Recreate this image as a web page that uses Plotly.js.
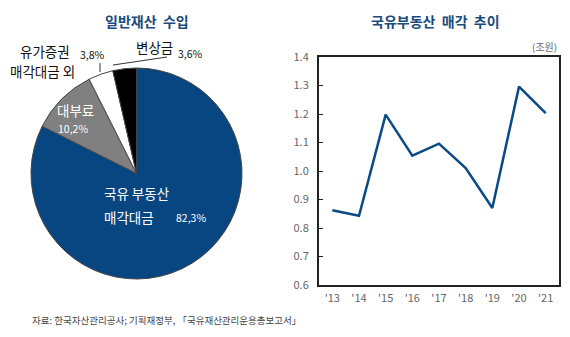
<!DOCTYPE html>
<html><head><meta charset="utf-8">
<script src="https://cdn.plot.ly/plotly-3.0.1.min.js"></script>
<style>html,body{margin:0;padding:0;background:#fff}#c{width:570px;height:337px}</style>
</head><body><div id="c"></div>
<script>
const pieLabels = ['국유 부동산 매각대금', '대부료', '유가증권 매각대금 외', '변상금'];
const pieValues = [82.3, 10.2, 3.8, 3.6];
const pieColors = ['#084682', '#808080', '#ffffff', '#000000'];

const years = ["'13", "'14", "'15", "'16", "'17", "'18", "'19", "'20", "'21"];
const sales = [0.862, 0.843, 1.198, 1.054, 1.096, 1.010, 0.870, 1.296, 1.203];
const yTicks = [0.6, 0.7, 0.8, 0.9, 1.0, 1.1, 1.2, 1.3, 1.4];

const W = 570, H = 337;
const px = x => x / W, py = y => 1 - y / H;
const KR = '"Noto Sans CJK KR", "Noto Sans", sans-serif';
const navy = '#1a4a7e';

const traces = [
  {
    type: 'pie', labels: pieLabels, values: pieValues, sort: false,
    direction: 'clockwise', rotation: 0, textinfo: 'none', hoverinfo: 'none',
    marker: {colors: pieColors, line: {color: '#444', width: 1}},
    domain: {x: [px(31), px(242)], y: [py(279), py(68)]}, showlegend: false
  },
  {
    type: 'scatter', mode: 'lines', x: years, y: sales, xaxis: 'x', yaxis: 'y',
    line: {color: '#0b4a86', width: 2.5}, showlegend: false, hoverinfo: 'none'
  }
];

const ann = [];
function t(text, x, y, size, color, opts) {
  ann.push(Object.assign({text: text, x: px(x), y: py(y), xref: 'paper', yref: 'paper',
    showarrow: false, font: {family: KR, size: size, color: color}, xanchor: 'left', yanchor: 'middle'}, opts || {}));
}
t('<b>일반재산  수입</b>', 147, 21, 14, navy, {xanchor: 'center'});
t('<b>국유부동산  매각  추이</b>', 435, 21, 14, navy, {xanchor: 'center'});
t('(조원)', 559, 46, 10, '#666', {xanchor: 'right'});
t('국유 부동산', 102, 193, 13.5, '#fff');
t('매각대금', 102, 217, 13.5, '#fff');
t(pieValues[0].toFixed(1).replace('.', ',') + '%', 174, 217, 10.5, '#fff');
t('대부료', 55, 110, 13.5, '#fff');
t(pieValues[1].toFixed(1).replace('.', ',') + '%', 56, 128, 10.5, '#fff');
t('유가증권', 18, 51, 13.5, '#111');
t('매각대금 외', 8, 71, 13.5, '#111');
t(pieValues[2].toFixed(1).replace('.', ',') + '%', 78, 55, 10.5, '#111');
t('변상금', 134, 47, 13.5, '#111');
t(pieValues[3].toFixed(1).replace('.', ',') + '%', 176, 54, 10.5, '#111');
t('자료: 한국자산관리공사; 기획재정부, 「국유재산관리운용총보고서」', 30, 320, 9.5, '#444');

const layout = {
  width: W, height: H, margin: {l: 0, r: 0, t: 0, b: 0},
  paper_bgcolor: '#fff', plot_bgcolor: '#fff',
  xaxis: {
    domain: [px(319), px(559)], type: 'category', range: [-0.5, 8.5],
    showline: true, mirror: true, linecolor: '#222', linewidth: 2,
    showgrid: false, zeroline: false, ticks: '', ticklabelstandoff: 2,
    tickfont: {family: KR, size: 11, color: '#666'}, fixedrange: true
  },
  yaxis: {
    domain: [py(285), py(57)], range: [0.6, 1.4], tickvals: yTicks,
    ticktext: yTicks.map(v => v.toFixed(1)),
    showline: true, mirror: true, linecolor: '#222', linewidth: 2,
    showgrid: false, zeroline: false, ticks: 'inside', ticklen: 4, tickcolor: '#222',
    ticklabelstandoff: 6,
    tickfont: {family: KR, size: 11, color: '#666'}, fixedrange: true
  },
  annotations: ann,
  shapes: [
    {type: 'line', xref: 'paper', yref: 'paper', x0: px(100), y0: py(63), x1: px(100), y1: py(72), line: {color: '#333', width: 1}},
    {type: 'line', xref: 'paper', yref: 'paper', x0: px(113), y0: py(65), x1: px(167), y1: py(57), line: {color: '#333', width: 1}}
  ]
};
Plotly.newPlot('c', traces, layout, {staticPlot: true, displayModeBar: false});
</script></body></html>
